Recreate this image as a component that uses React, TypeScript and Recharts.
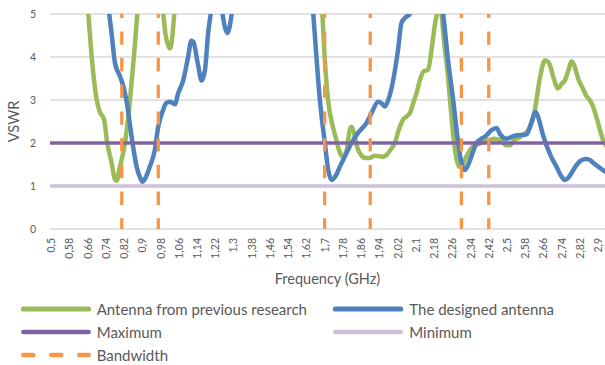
import React from 'react';
import { LineChart, Line, XAxis, YAxis, CartesianGrid } from 'recharts';

// ---------- data ----------
const X_DOMAIN = [0.495, 2.93];
const X_TICKS = [
  0.5, 0.58, 0.66, 0.74, 0.82, 0.9, 0.98, 1.06, 1.14, 1.22, 1.3, 1.38, 1.46, 1.54, 1.62, 1.7,
  1.78, 1.86, 1.94, 2.02, 2.1, 2.18, 2.26, 2.34, 2.42, 2.5, 2.58, 2.66, 2.74, 2.82, 2.9,
];
const Y_DOMAIN = [0, 5];
const Y_TICKS = [0, 1, 2, 3, 4, 5];

// Antenna from previous research (green)
const prevFreq = [
  0.5, 0.6, 0.65, 0.663, 0.678, 0.7, 0.714, 0.732, 0.746, 0.765, 0.78, 0.787, 0.802, 0.809, 0.824,
  0.846, 0.863, 0.878, 0.89, 0.93, 0.98, 0.992, 1.0, 1.015, 1.022, 1.03, 1.04, 1.05, 1.2, 1.5,
  1.67, 1.69, 1.7, 1.715, 1.735, 1.75, 1.765, 1.779, 1.795, 1.81, 1.818, 1.828, 1.84, 1.86, 1.88,
  1.898, 1.915, 1.935, 1.955, 1.971, 1.99, 2.008, 2.025, 2.044, 2.06, 2.074, 2.09, 2.103, 2.12,
  2.135, 2.154, 2.169, 2.185, 2.193, 2.207, 2.225, 2.242, 2.255, 2.268, 2.28, 2.29, 2.305, 2.322,
  2.351, 2.388, 2.415, 2.439, 2.475, 2.495, 2.512, 2.535, 2.564, 2.6, 2.622, 2.644, 2.666, 2.678,
  2.688, 2.705, 2.724, 2.74, 2.753, 2.77, 2.783, 2.797, 2.812, 2.83, 2.849, 2.865, 2.878, 2.89,
  2.9, 2.921, 2.94,
];
const prevVswr = [
  9, 7.5, 5.8, 5.0, 4.0, 3.0, 2.72, 2.55, 2.0, 1.55, 1.15, 1.12, 1.45, 1.6, 2.0,
  3.0, 4.0, 5.0, 5.8, 6.2, 5.6, 5.0, 4.6, 4.25, 4.2, 4.4, 5.0, 5.8, 8, 8,
  6.5, 5.0, 4.0, 3.0, 2.4, 2.1, 1.8, 1.68, 1.8, 2.3, 2.38, 2.25, 1.95, 1.72, 1.65,
  1.65, 1.7, 1.7, 1.68, 1.72, 1.85, 2.0, 2.3, 2.54, 2.62, 2.7, 2.95, 3.16, 3.5,
  3.67, 3.7, 4.17, 4.8, 5.0, 5.15, 4.3, 3.5, 2.7, 2.0, 1.6, 1.45, 1.5, 1.69,
  1.92, 2.0, 2.05, 2.1, 2.05, 1.95, 1.95, 2.08, 2.16, 2.35, 2.76, 3.5, 3.92, 3.9,
  3.82, 3.5, 3.27, 3.38, 3.45, 3.7, 3.9, 3.78, 3.5, 3.3, 3.09, 2.98, 2.84, 2.65,
  2.46, 2.08, 1.9,
];

// The designed antenna (blue)
const designFreq = [
  0.5, 0.7, 0.745, 0.755, 0.765, 0.78, 0.802, 0.815, 0.83, 0.857, 0.875, 0.89, 0.901, 0.915, 0.933,
  0.955, 0.97, 0.99, 1.005, 1.021, 1.043, 1.057, 1.079, 1.101, 1.115, 1.124, 1.145, 1.16, 1.175,
  1.189, 1.2, 1.215, 1.24, 1.252, 1.262, 1.274, 1.283, 1.292, 1.31, 1.5, 1.63, 1.65, 1.664, 1.679,
  1.701, 1.715, 1.73, 1.75, 1.767, 1.796, 1.818, 1.847, 1.884, 1.906, 1.935, 1.95, 1.964, 1.979,
  2.0, 2.022, 2.037, 2.059, 2.074, 2.09, 2.15, 2.2, 2.22, 2.242, 2.264, 2.286, 2.3, 2.315, 2.33,
  2.344, 2.366, 2.388, 2.403, 2.432, 2.454, 2.47, 2.498, 2.534, 2.586, 2.605, 2.626, 2.64, 2.656,
  2.693, 2.717, 2.739, 2.753, 2.77, 2.783, 2.8, 2.819, 2.835, 2.849, 2.865, 2.878, 2.9, 2.922, 2.94,
];
const designVswr = [
  9, 7, 5.6, 5.0, 4.56, 3.86, 3.55, 3.35, 3.0, 2.0, 1.45, 1.2, 1.1, 1.2, 1.45,
  1.84, 2.38, 2.75, 2.93, 2.96, 2.9, 3.15, 3.45, 4.0, 4.38, 4.35, 3.8, 3.45, 3.7,
  4.57, 5.0, 5.6, 5.5, 5.0, 4.7, 4.56, 4.7, 5.0, 5.8, 9, 6, 5.0, 4.0, 3.0,
  2.0, 1.4, 1.14, 1.25, 1.45, 1.77, 2.0, 2.24, 2.47, 2.7, 2.96, 2.92, 2.85, 3.0,
  3.44, 4.17, 4.79, 4.94, 5.0, 5.5, 6, 5.8, 5.0, 3.9, 3.0, 2.0, 1.55, 1.37, 1.5,
  1.69, 2.0, 2.1, 2.14, 2.3, 2.35, 2.2, 2.1, 2.17, 2.2, 2.45, 2.72, 2.55, 2.22,
  1.69, 1.45, 1.22, 1.14, 1.2, 1.3, 1.45, 1.57, 1.62, 1.63, 1.6, 1.54, 1.45, 1.37, 1.3,
];

const MAXIMUM_VSWR = 2;
const MINIMUM_VSWR = 1;
const BANDWIDTH_FREQ = [0.81, 0.97, 1.7, 1.9, 2.3, 2.42];

// ---------- styling ----------
const TEXT = '#595959';
const FONT = 'Lato, "Noto Sans", sans-serif';
const C_PREV = '#9BBB59';
const C_DESIGN = '#4F81BD';
const C_MAX = '#8064A2';
const C_MIN = '#CCC1DA';
const C_BW = '#F79646';

const toRows = (fs: number[], vs: number[]) => fs.map((f, i) => ({ f, v: vs[i] }));
const prevData = toRows(prevFreq, prevVswr);
const designData = toRows(designFreq, designVswr);
const maxData = X_DOMAIN.map((f) => ({ f, v: MAXIMUM_VSWR }));
const minData = X_DOMAIN.map((f) => ({ f, v: MINIMUM_VSWR }));
const bwData = BANDWIDTH_FREQ.map((f) => Y_DOMAIN.map((v) => ({ f, v })));

const fmt = (v: number) => String(v).replace('.', ',');

const XTick = (props: any) => {
  const { x, y, payload } = props;
  return (
    <text
      x={x}
      y={y}
      transform={`rotate(-90 ${x} ${y})`}
      textAnchor="end"
      dominantBaseline="central"
      fontSize={10.5}
      fill={TEXT}
      fontFamily={FONT}
    >
      {fmt(payload.value)}
    </text>
  );
};

const YTitle = (props: any) => {
  const vb = props.viewBox || { x: 0, y: 14, width: 50, height: 215 };
  const cx = 13;
  const cy = vb.y + vb.height / 2;
  return (
    <text
      x={cx}
      y={cy}
      transform={`rotate(-90 ${cx} ${cy})`}
      textAnchor="middle"
      dominantBaseline="central"
      fontSize={14.5}
      fill={TEXT}
      fontFamily={FONT}
    >
      VSWR
    </text>
  );
};

const legendItems = [
  { name: 'Antenna from previous research', color: C_PREV, w: 5, dash: undefined as string | undefined, col: 0, row: 0 },
  { name: 'The designed antenna', color: C_DESIGN, w: 5, dash: undefined, col: 1, row: 0 },
  { name: 'Maximum', color: C_MAX, w: 4.5, dash: undefined, col: 0, row: 1 },
  { name: 'Minimum', color: C_MIN, w: 4.5, dash: undefined, col: 1, row: 1 },
  { name: 'Bandwidth', color: C_BW, w: 4.5, dash: '10 18', col: 0, row: 2 },
];
const LEGEND_COL_X = [20.7, 333.3];
const LEGEND_ROW_Y = [309, 331.7, 355];

export default function App() {
  return (
    <div
      style={{
        position: 'absolute',
        left: 0,
        top: 0,
        width: 605,
        height: 365,
        overflow: 'hidden',
        background: '#fff',
        fontFamily: FONT,
      }}
    >
      <LineChart width={605} height={289} margin={{ top: 14, right: 0, left: 0, bottom: 0 }}>
        <CartesianGrid vertical={false} stroke="#D9D9D9" strokeWidth={1.3} />
        <XAxis
          type="number"
          dataKey="f"
          domain={X_DOMAIN}
          allowDataOverflow
          ticks={X_TICKS}
          interval={0}
          height={60}
          tickSize={0}
          tickMargin={9}
          axisLine={false}
          tickLine={false}
          tick={<XTick />}
          label={{
            value: 'Frequency (GHz)',
            position: 'insideBottom',
            offset: 5,
            fill: TEXT,
            fontSize: 14.5,
            fontFamily: FONT,
          }}
        />
        <YAxis
          type="number"
          dataKey="v"
          domain={Y_DOMAIN}
          allowDataOverflow
          ticks={Y_TICKS}
          width={50}
          tickSize={0}
          tickMargin={14}
          axisLine={false}
          tickLine={false}
          tick={{ fontSize: 10.5, fill: TEXT, fontFamily: FONT }}
          label={<YTitle />}
        />
        <Line
          data={prevData}
          dataKey="v"
          type="monotone"
          stroke={C_PREV}
          strokeWidth={4.5}
          dot={false}
          isAnimationActive={false}
          strokeLinejoin="round"
        />
        <Line
          data={designData}
          dataKey="v"
          type="monotone"
          stroke={C_DESIGN}
          strokeWidth={4.5}
          dot={false}
          isAnimationActive={false}
          strokeLinejoin="round"
        />
        <Line data={maxData} dataKey="v" type="linear" stroke={C_MAX} strokeWidth={3.5} dot={false} isAnimationActive={false} />
        <Line data={minData} dataKey="v" type="linear" stroke={C_MIN} strokeWidth={3.5} dot={false} isAnimationActive={false} />
        {bwData.map((d, i) => (
          <Line
            key={i}
            data={d}
            dataKey="v"
            type="linear"
            stroke={C_BW}
            strokeWidth={3.3}
            strokeDasharray="13.3 13.4"
            strokeDashoffset={2.6}
            dot={false}
            isAnimationActive={false}
          />
        ))}
      </LineChart>
      {legendItems.map((it) => {
        const x = LEGEND_COL_X[it.col];
        const y = LEGEND_ROW_Y[it.row];
        return (
          <div
            key={it.name}
            style={{
              position: 'absolute',
              left: x,
              top: y - 10,
              height: 20,
              display: 'flex',
              alignItems: 'center',
              whiteSpace: 'nowrap',
            }}
          >
            <svg width={70} height={20} style={{ display: 'block' }}>
              <line
                x1={2.3}
                x2={67.7}
                y1={10}
                y2={10}
                stroke={it.color}
                strokeWidth={it.w}
                strokeLinecap="round"
                strokeDasharray={it.dash}
              />
            </svg>
            <span style={{ marginLeft: 6, fontSize: 15, color: TEXT, lineHeight: '20px' }}>{it.name}</span>
          </div>
        );
      })}
    </div>
  );
}
